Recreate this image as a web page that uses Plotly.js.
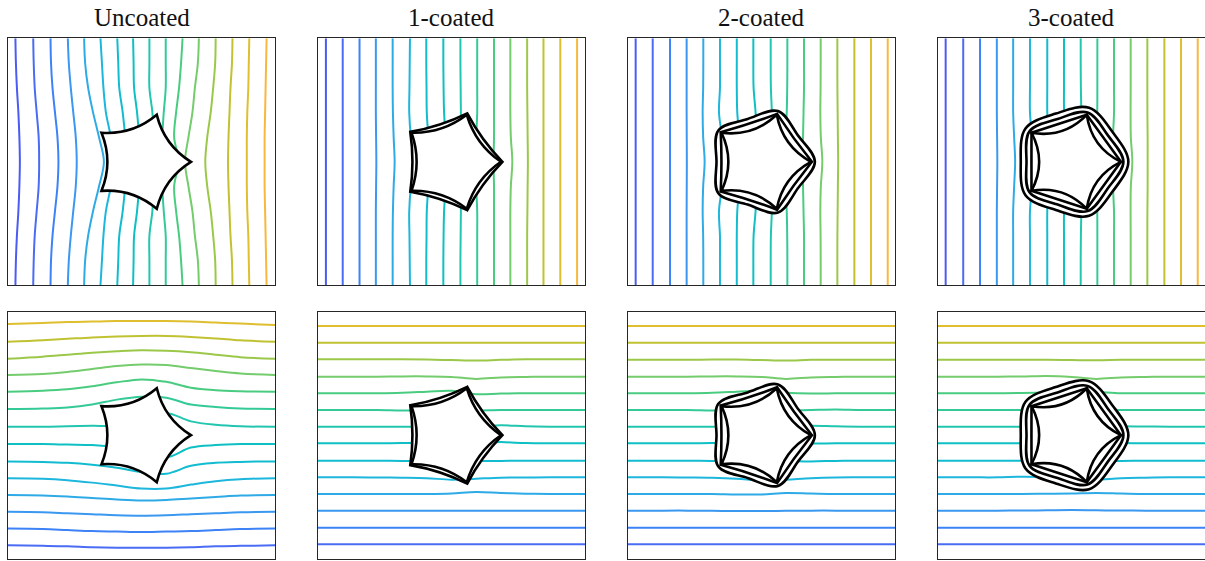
<!DOCTYPE html>
<html><head><meta charset="utf-8">
<script src="https://cdn.plot.ly/plotly-3.0.1.min.js"></script>
<style>html,body{margin:0;padding:0;background:#fff}#chart{width:1205px;height:561px}</style>
</head><body><div id="chart"></div>
<script>
// ---------------- DATA ----------------
const panelTitles = ["Uncoated", "1-coated", "2-coated", "3-coated"];

// colour of each level line (16 levels, low -> high)
const lineColors = ["#4b5cf2","#4a6cf5","#3d82f6","#3a98f0","#2eaae6","#1db6dc","#12bcd0","#0ec0c4",
                    "#22c6b0","#34ca98","#4acc80","#74cc6c","#9cc84a","#c0c232","#dfbf30","#f8b83c"];

// top row: vertical lines, x position sampled at these y values
const ySamplesTop = [2.5, 2, 1.5, 1, 0.5, 0, -0.5, -1, -1.5, -2, -2.5];
// bottom row: horizontal lines, y position sampled at these x values
const xSamplesBottom = [-2.7, -2, -1.5, -1, -0.5, 0, 0.5, 1, 1.5, 2, 2.7];

const uncoatedVertical = [
 [-2.55,-2.54,-2.52,-2.49,-2.47,-2.46,-2.47,-2.49,-2.52,-2.54,-2.55],
 [-2.19,-2.18,-2.16,-2.12,-2.08,-2.07,-2.08,-2.12,-2.16,-2.18,-2.19],
 [-1.84,-1.83,-1.80,-1.75,-1.70,-1.68,-1.70,-1.75,-1.80,-1.83,-1.84],
 [-1.49,-1.47,-1.43,-1.38,-1.33,-1.31,-1.33,-1.38,-1.43,-1.47,-1.49],
 [-1.16,-1.14,-1.08,-0.98,-0.86,-0.76,-0.86,-0.98,-1.08,-1.14,-1.16],
 [-0.83,-0.80,-0.77,-0.72,-0.62,-0.55,-0.62,-0.72,-0.77,-0.80,-0.83],
 [-0.49,-0.47,-0.45,-0.38,-0.33,-0.30,-0.33,-0.38,-0.45,-0.47,-0.49],
 [-0.17,-0.16,-0.15,-0.09,-0.05,-0.05,-0.05,-0.09,-0.15,-0.16,-0.17],
 [0.16,0.16,0.16,0.22,0.25,0.25,0.25,0.22,0.16,0.16,0.16],
 [0.49,0.49,0.49,0.45,0.42,0.42,0.42,0.45,0.49,0.49,0.49],
 [0.83,0.80,0.76,0.70,0.66,0.75,0.66,0.70,0.76,0.80,0.83],
 [1.16,1.14,1.08,1.03,0.95,0.88,0.95,1.03,1.08,1.14,1.16],
 [1.50,1.49,1.45,1.40,1.33,1.29,1.33,1.40,1.45,1.49,1.50],
 [1.84,1.83,1.80,1.78,1.76,1.75,1.76,1.78,1.80,1.83,1.84],
 [2.18,2.17,2.16,2.14,2.13,2.13,2.13,2.14,2.16,2.17,2.18],
 [2.53,2.52,2.51,2.50,2.49,2.49,2.49,2.50,2.51,2.52,2.53]
];
const coated1Vertical = [
 [-2.54,-2.54,-2.54,-2.54,-2.54,-2.54,-2.54,-2.54,-2.54,-2.54,-2.54],
 [-2.20,-2.20,-2.20,-2.20,-2.20,-2.20,-2.20,-2.20,-2.20,-2.20,-2.20],
 [-1.86,-1.86,-1.86,-1.86,-1.86,-1.86,-1.86,-1.86,-1.86,-1.86,-1.86],
 [-1.53,-1.53,-1.53,-1.53,-1.525,-1.52,-1.525,-1.53,-1.53,-1.53,-1.53],
 [-1.19,-1.19,-1.19,-1.185,-1.17,-1.15,-1.17,-1.185,-1.19,-1.19,-1.19],
 [-0.84,-0.845,-0.85,-0.855,-0.82,-0.74,-0.82,-0.855,-0.85,-0.845,-0.84],
 [-0.51,-0.51,-0.505,-0.50,-0.47,-0.45,-0.47,-0.50,-0.505,-0.51,-0.51],
 [-0.165,-0.165,-0.16,-0.15,-0.12,-0.10,-0.12,-0.15,-0.16,-0.165,-0.165],
 [0.18,0.18,0.185,0.19,0.20,0.20,0.20,0.19,0.185,0.18,0.18],
 [0.52,0.52,0.52,0.52,0.50,0.50,0.50,0.52,0.52,0.52,0.52],
 [0.86,0.86,0.86,0.86,0.86,0.85,0.86,0.86,0.86,0.86,0.86],
 [1.19,1.19,1.19,1.19,1.20,1.23,1.20,1.19,1.19,1.19,1.19],
 [1.53,1.53,1.53,1.535,1.54,1.545,1.54,1.535,1.53,1.53,1.53],
 [1.86,1.86,1.86,1.86,1.86,1.86,1.86,1.86,1.86,1.86,1.86],
 [2.20,2.20,2.20,2.20,2.20,2.20,2.20,2.20,2.20,2.20,2.20],
 [2.54,2.54,2.54,2.54,2.54,2.54,2.54,2.54,2.54,2.54,2.54]
];
const coated2Vertical = [
 [-2.545,-2.545,-2.545,-2.545,-2.545,-2.545,-2.545,-2.545,-2.545,-2.545,-2.545],
 [-2.20,-2.20,-2.20,-2.20,-2.20,-2.20,-2.20,-2.20,-2.20,-2.20,-2.20],
 [-1.85,-1.85,-1.85,-1.85,-1.85,-1.85,-1.85,-1.85,-1.85,-1.85,-1.85],
 [-1.514,-1.514,-1.514,-1.514,-1.512,-1.51,-1.512,-1.514,-1.514,-1.514,-1.514],
 [-1.177,-1.177,-1.18,-1.19,-1.18,-1.15,-1.18,-1.19,-1.18,-1.177,-1.177],
 [-0.84,-0.84,-0.84,-0.86,-0.80,-0.78,-0.80,-0.86,-0.84,-0.84,-0.84],
 [-0.50,-0.50,-0.50,-0.49,-0.45,-0.45,-0.45,-0.49,-0.50,-0.50,-0.50],
 [-0.165,-0.165,-0.16,-0.12,-0.10,-0.10,-0.10,-0.12,-0.16,-0.165,-0.165],
 [0.186,0.186,0.19,0.21,0.22,0.22,0.22,0.21,0.19,0.186,0.186],
 [0.523,0.523,0.52,0.51,0.48,0.48,0.48,0.51,0.52,0.523,0.523],
 [0.86,0.86,0.86,0.85,0.84,0.83,0.84,0.85,0.86,0.86,0.86],
 [1.197,1.197,1.195,1.19,1.20,1.23,1.20,1.19,1.195,1.197,1.197],
 [1.534,1.534,1.535,1.54,1.545,1.55,1.545,1.54,1.535,1.534,1.534],
 [1.878,1.878,1.878,1.878,1.878,1.878,1.878,1.878,1.878,1.878,1.878],
 [2.215,2.215,2.215,2.215,2.215,2.215,2.215,2.215,2.215,2.215,2.215],
 [2.553,2.553,2.553,2.553,2.553,2.553,2.553,2.553,2.553,2.553,2.553]
];
const coated3Vertical = [
 [-2.545,-2.545,-2.545,-2.545,-2.545,-2.545,-2.545,-2.545,-2.545,-2.545,-2.545],
 [-2.19,-2.19,-2.19,-2.19,-2.19,-2.19,-2.19,-2.19,-2.19,-2.19,-2.19],
 [-1.85,-1.85,-1.85,-1.85,-1.85,-1.85,-1.85,-1.85,-1.85,-1.85,-1.85],
 [-1.51,-1.51,-1.51,-1.51,-1.505,-1.50,-1.505,-1.51,-1.51,-1.51,-1.51],
 [-1.18,-1.18,-1.18,-1.18,-1.16,-1.14,-1.16,-1.18,-1.18,-1.18,-1.18],
 [-0.84,-0.84,-0.84,-0.84,-0.80,-0.78,-0.80,-0.84,-0.84,-0.84,-0.84],
 [-0.49,-0.49,-0.49,-0.49,-0.47,-0.45,-0.47,-0.49,-0.49,-0.49,-0.49],
 [-0.152,-0.152,-0.152,-0.15,-0.12,-0.10,-0.12,-0.15,-0.152,-0.152,-0.152],
 [0.186,0.186,0.19,0.20,0.22,0.22,0.22,0.20,0.19,0.186,0.186],
 [0.523,0.523,0.523,0.52,0.50,0.50,0.50,0.52,0.523,0.523,0.523],
 [0.86,0.86,0.86,0.86,0.84,0.84,0.84,0.86,0.86,0.86,0.86],
 [1.197,1.197,1.197,1.195,1.20,1.23,1.20,1.195,1.197,1.197,1.197],
 [1.534,1.534,1.534,1.535,1.54,1.54,1.54,1.535,1.534,1.534,1.534],
 [1.878,1.878,1.878,1.878,1.878,1.878,1.878,1.878,1.878,1.878,1.878],
 [2.215,2.215,2.215,2.215,2.215,2.215,2.215,2.215,2.215,2.215,2.215],
 [2.553,2.553,2.553,2.553,2.553,2.553,2.553,2.553,2.553,2.553,2.553]
];

// bottom row: 14 lines, listed from the bottom (low) to the top (high)
const uncoatedHorizontal = [
 [-2.23,-2.24,-2.25,-2.27,-2.28,-2.28,-2.28,-2.27,-2.25,-2.24,-2.23],
 [-1.89,-1.90,-1.92,-1.94,-1.95,-1.96,-1.95,-1.94,-1.92,-1.90,-1.89],
 [-1.55,-1.56,-1.58,-1.60,-1.62,-1.63,-1.62,-1.60,-1.58,-1.56,-1.55],
 [-1.21,-1.22,-1.24,-1.27,-1.30,-1.32,-1.31,-1.28,-1.25,-1.22,-1.21],
 [-0.87,-0.88,-0.91,-0.96,-1.02,-1.08,-1.08,-1.00,-0.93,-0.89,-0.87],
 [-0.53,-0.54,-0.56,-0.60,-0.66,-0.75,-0.78,-0.62,-0.56,-0.54,-0.53],
 [-0.18,-0.18,-0.19,-0.20,-0.25,-0.35,-0.45,-0.25,-0.20,-0.18,-0.18],
 [0.17,0.17,0.18,0.19,0.20,0.35,0.45,0.28,0.21,0.18,0.17],
 [0.53,0.54,0.56,0.62,0.72,0.78,0.76,0.62,0.57,0.54,0.53],
 [0.88,0.90,0.93,0.99,1.07,1.13,1.08,0.96,0.91,0.89,0.88],
 [1.22,1.24,1.28,1.34,1.40,1.43,1.42,1.36,1.30,1.25,1.22],
 [1.55,1.59,1.63,1.67,1.70,1.72,1.71,1.68,1.63,1.58,1.55],
 [1.89,1.92,1.95,1.98,2.00,2.01,2.01,1.99,1.96,1.92,1.89],
 [2.25,2.27,2.29,2.30,2.31,2.31,2.31,2.30,2.28,2.26,2.23]
];
const coated1Horizontal = [
 [-2.208,-2.208,-2.208,-2.208,-2.208,-2.208,-2.208,-2.208,-2.208,-2.208,-2.208],
 [-1.871,-1.871,-1.871,-1.871,-1.871,-1.871,-1.871,-1.871,-1.871,-1.871,-1.871],
 [-1.527,-1.527,-1.527,-1.527,-1.527,-1.527,-1.527,-1.527,-1.527,-1.527,-1.527],
 [-1.19,-1.19,-1.19,-1.19,-1.19,-1.18,-1.15,-1.17,-1.185,-1.19,-1.19],
 [-0.853,-0.853,-0.855,-0.86,-0.87,-0.90,-0.88,-0.86,-0.855,-0.853,-0.853],
 [-0.516,-0.516,-0.516,-0.52,-0.52,-0.52,-0.52,-0.52,-0.516,-0.516,-0.516],
 [-0.165,-0.165,-0.165,-0.16,-0.16,-0.16,-0.16,-0.14,-0.16,-0.165,-0.165],
 [0.173,0.173,0.173,0.17,0.17,0.17,0.17,0.20,0.18,0.173,0.173],
 [0.51,0.51,0.51,0.50,0.50,0.50,0.50,0.51,0.51,0.51,0.51],
 [0.847,0.847,0.85,0.86,0.88,0.90,0.83,0.845,0.847,0.847,0.847],
 [1.184,1.184,1.185,1.19,1.19,1.18,1.14,1.17,1.18,1.184,1.184],
 [1.535,1.535,1.535,1.535,1.53,1.52,1.51,1.525,1.535,1.535,1.535],
 [1.87,1.87,1.87,1.87,1.87,1.87,1.87,1.87,1.87,1.87,1.87],
 [2.21,2.21,2.21,2.21,2.21,2.21,2.21,2.21,2.21,2.21,2.21]
];
const coated2Horizontal = [
 [-2.208,-2.208,-2.208,-2.208,-2.208,-2.208,-2.208,-2.208,-2.208,-2.208,-2.208],
 [-1.871,-1.871,-1.871,-1.871,-1.871,-1.871,-1.871,-1.871,-1.871,-1.871,-1.871],
 [-1.527,-1.527,-1.527,-1.53,-1.535,-1.535,-1.53,-1.527,-1.527,-1.527,-1.527],
 [-1.19,-1.19,-1.19,-1.19,-1.20,-1.20,-1.17,-1.18,-1.19,-1.19,-1.19],
 [-0.853,-0.853,-0.855,-0.86,-0.88,-0.92,-0.90,-0.87,-0.855,-0.853,-0.853],
 [-0.516,-0.516,-0.516,-0.52,-0.52,-0.52,-0.52,-0.53,-0.52,-0.516,-0.516],
 [-0.165,-0.165,-0.165,-0.16,-0.16,-0.16,-0.16,-0.17,-0.165,-0.165,-0.165],
 [0.173,0.173,0.173,0.17,0.17,0.17,0.17,0.19,0.18,0.173,0.173],
 [0.51,0.51,0.51,0.50,0.50,0.50,0.50,0.51,0.52,0.51,0.51],
 [0.847,0.847,0.85,0.86,0.88,0.90,0.86,0.845,0.847,0.847,0.847],
 [1.184,1.184,1.185,1.19,1.19,1.18,1.14,1.17,1.18,1.184,1.184],
 [1.528,1.528,1.528,1.53,1.53,1.52,1.51,1.525,1.528,1.528,1.528],
 [1.87,1.87,1.87,1.87,1.87,1.87,1.87,1.87,1.87,1.87,1.87],
 [2.21,2.21,2.21,2.21,2.21,2.21,2.21,2.21,2.21,2.21,2.21]
];
const coated3Horizontal = [
 [-2.208,-2.208,-2.208,-2.208,-2.208,-2.208,-2.208,-2.208,-2.208,-2.208,-2.208],
 [-1.871,-1.871,-1.871,-1.871,-1.871,-1.871,-1.871,-1.871,-1.871,-1.871,-1.871],
 [-1.527,-1.527,-1.527,-1.525,-1.52,-1.515,-1.52,-1.525,-1.527,-1.527,-1.527],
 [-1.19,-1.19,-1.19,-1.19,-1.185,-1.18,-1.17,-1.18,-1.19,-1.19,-1.19],
 [-0.853,-0.853,-0.853,-0.84,-0.85,-0.90,-0.90,-0.87,-0.86,-0.853,-0.853],
 [-0.516,-0.516,-0.516,-0.516,-0.52,-0.52,-0.52,-0.52,-0.516,-0.516,-0.516],
 [-0.165,-0.165,-0.165,-0.165,-0.16,-0.16,-0.16,-0.16,-0.165,-0.165,-0.165],
 [0.173,0.173,0.173,0.173,0.17,0.17,0.17,0.18,0.175,0.173,0.173],
 [0.51,0.51,0.51,0.51,0.50,0.50,0.50,0.51,0.51,0.51,0.51],
 [0.847,0.847,0.85,0.855,0.87,0.90,0.88,0.85,0.847,0.847,0.847],
 [1.184,1.184,1.185,1.19,1.20,1.18,1.14,1.17,1.18,1.184,1.184],
 [1.528,1.528,1.528,1.528,1.525,1.52,1.515,1.525,1.528,1.528,1.528],
 [1.87,1.87,1.87,1.87,1.87,1.87,1.87,1.87,1.87,1.87,1.87],
 [2.21,2.21,2.21,2.21,2.21,2.21,2.21,2.21,2.21,2.21,2.21]
];

// inclusion / coating boundaries: radius at the 5 tips and at the 5 edge middles
const layerTipR = [[1.0], [1.0, 1.03], [1.0, 1.02, 1.08], [1.0, 1.0, 1.05, 1.15]];
const layerMidR = [[0.69], [0.705, 0.79], [0.67, 0.81, 0.91], [0.654, 0.81, 0.91, 1.026]];
const layerSmooth = [[false], [false, false], [false, false, true], [false, false, true, true]];

const verticalSets = [uncoatedVertical, coated1Vertical, coated2Vertical, coated3Vertical];
const horizontalSets = [uncoatedHorizontal, coated1Horizontal, coated2Horizontal, coated3Horizontal];

// ---------------- LAYOUT ----------------
const W = 1205, H = 561;
const colPx = [[8, 275], [318, 585], [628, 895], [938, 1205]];
const rowPx = [[38.3, 285.3], [311.7, 558.7]];

const layout = {
  width: W, height: H, margin: {l: 0, r: 0, t: 0, b: 0},
  paper_bgcolor: "#ffffff", plot_bgcolor: "#ffffff",
  showlegend: false, hovermode: false,
  shapes: [], annotations: []
};
const traces = [];

function sfx(n) { return n === 1 ? "" : String(n); }

function qPath(rt, rm) {
  const c36 = Math.cos(Math.PI / 5);
  const rc = 2 * rm - rt * c36;
  let d = "";
  for (let k = 0; k < 5; k++) {
    const a = k * 2 * Math.PI / 5, b = (k + 1) * 2 * Math.PI / 5, m = a + Math.PI / 5;
    if (k === 0) d += "M" + (rt * Math.cos(a)).toFixed(4) + "," + (rt * Math.sin(a)).toFixed(4);
    d += " Q" + (rc * Math.cos(m)).toFixed(4) + "," + (rc * Math.sin(m)).toFixed(4) +
         " " + (rt * Math.cos(b)).toFixed(4) + "," + (rt * Math.sin(b)).toFixed(4);
  }
  return d + " Z";
}

function splineLoop(rt, rm) {
  const xs = [], ys = [];
  for (let k = 0; k < 5; k++) {
    const a = k * 2 * Math.PI / 5, m = a + Math.PI / 5;
    xs.push(+(rt * Math.cos(a)).toFixed(4)); ys.push(+(rt * Math.sin(a)).toFixed(4));
    xs.push(+(rm * Math.cos(m)).toFixed(4)); ys.push(+(rm * Math.sin(m)).toFixed(4));
  }
  xs.push(xs[0]); ys.push(ys[0]);
  return {xs, ys};
}

for (let r = 0; r < 2; r++) {
  for (let c = 0; c < 4; c++) {
    const n = r * 4 + c + 1;
    const xa = "x" + sfx(n), ya = "y" + sfx(n);
    layout["xaxis" + sfx(n)] = {
      domain: [colPx[c][0] / W, colPx[c][1] / W], range: [-2.7, 2.7], anchor: ya,
      showgrid: false, zeroline: false, showticklabels: false, ticks: "",
      showline: true, mirror: true, linecolor: "#262626", linewidth: 1, fixedrange: true
    };
    layout["yaxis" + sfx(n)] = {
      domain: [(H - rowPx[r][1]) / H, (H - rowPx[r][0]) / H], range: [-2.5, 2.5], anchor: xa,
      showgrid: false, zeroline: false, showticklabels: false, ticks: "",
      showline: true, mirror: true, linecolor: "#262626", linewidth: 1, fixedrange: true
    };

    // level lines
    if (r === 0) {
      verticalSets[c].forEach((vals, i) => {
        traces.push({type: "scatter", mode: "lines", x: vals, y: ySamplesTop, xaxis: xa, yaxis: ya,
          line: {color: lineColors[i], width: 2, shape: "spline", smoothing: 1}, hoverinfo: "skip"});
      });
    } else {
      horizontalSets[c].forEach((vals, j) => {
        traces.push({type: "scatter", mode: "lines", x: xSamplesBottom, y: vals, xaxis: xa, yaxis: ya,
          line: {color: lineColors[j + 1], width: 2, shape: "spline", smoothing: 1}, hoverinfo: "skip"});
      });
    }

    // inclusion + coating layers (outermost first, filled white)
    const L = layerTipR[c].length;
    for (let k = L - 1; k >= 0; k--) {
      const rt = layerTipR[c][k], rm = layerMidR[c][k];
      const fill = (k === L - 1);
      if (layerSmooth[c][k]) {
        const p = splineLoop(rt, rm);
        traces.push({type: "scatter", mode: "lines", x: p.xs, y: p.ys, xaxis: xa, yaxis: ya,
          fill: fill ? "toself" : "none", fillcolor: "#ffffff",
          line: {color: "#000000", width: 2.6, shape: "spline", smoothing: 1}, hoverinfo: "skip"});
      } else {
        layout.shapes.push({type: "path", xref: xa, yref: ya, path: qPath(rt, rm),
          fillcolor: fill ? "#ffffff" : "rgba(0,0,0,0)", line: {color: "#000000", width: 2.6},
          layer: "above"});
      }
    }
  }
}

panelTitles.forEach((t, c) => {
  layout.annotations.push({
    text: t, xref: "paper", yref: "paper",
    x: (colPx[c][0] + colPx[c][1]) / 2 / W, y: (H - 17.5) / H,
    xanchor: "center", yanchor: "middle", showarrow: false,
    font: {family: "Liberation Serif, DejaVu Serif, serif", size: 25, color: "#111111"}
  });
});

Plotly.newPlot("chart", traces, layout, {staticPlot: true, displayModeBar: false});
</script>
</body></html>
